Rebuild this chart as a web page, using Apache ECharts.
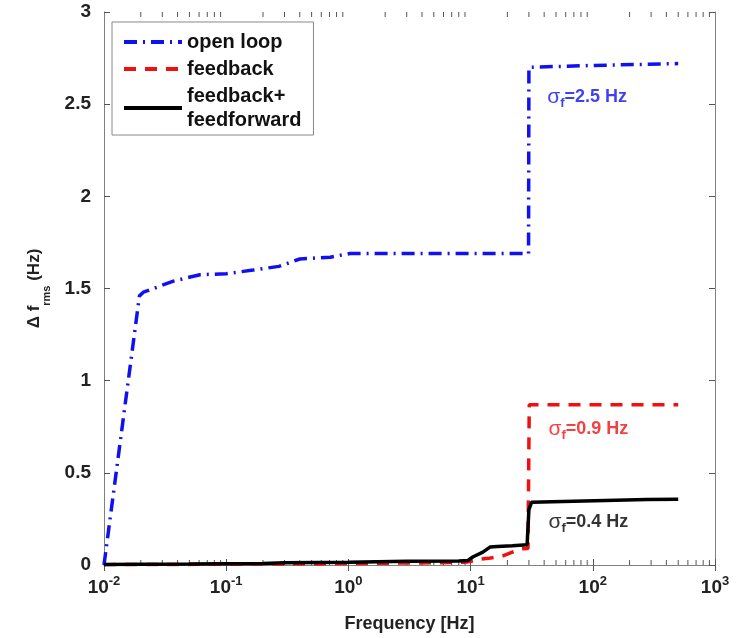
<!DOCTYPE html>
<html>
<head>
<meta charset="utf-8">
<script src="https://cdn.jsdelivr.net/npm/echarts@6/dist/echarts.min.js"></script>
<style>
  html, body { margin: 0; padding: 0; background: #fff; }
  #chart { width: 737px; height: 638px; }
</style>
</head>
<body>
<div id="chart"></div>
<script>
// ---- data ----
const openLoopFreq = [0.01, 0.0195, 0.021, 0.037, 0.061, 0.10, 0.166, 0.27, 0.33, 0.40, 0.71, 1.03, 2.0, 5, 10, 29.8, 30.0, 31, 100, 500];
const openLoopVal  = [0, 1.46, 1.48, 1.54, 1.575, 1.58, 1.60, 1.62, 1.64, 1.66, 1.67, 1.69, 1.69, 1.69, 1.69, 1.69, 2.70, 2.71, 2.71, 2.72];

const feedbackFreq = [0.01, 0.1, 1, 5, 9, 10.5, 11.9, 14, 18.4, 25.4, 29.5, 29.9, 30.2, 31, 100, 500];
const feedbackVal  = [0.002, 0.004, 0.008, 0.012, 0.015, 0.022, 0.032, 0.036, 0.05, 0.087, 0.09, 0.09, 0.87, 0.87, 0.87, 0.87];

const fbffFreq = [0.01, 0.05, 0.2, 0.3, 1, 3, 8, 9.5, 10.5, 12.6, 14.4, 16.5, 22, 29, 30, 31.5, 57, 278, 500];
const fbffVal  = [0.003, 0.005, 0.008, 0.012, 0.015, 0.02, 0.022, 0.025, 0.045, 0.07, 0.097, 0.10, 0.105, 0.11, 0.30, 0.34, 0.345, 0.355, 0.357];

const seriesNames = ['open loop', 'feedback', 'feedback+\nfeedforward'];
const xTickExponents = [-2, -1, 0, 1, 2, 3];
const minorMultipliers = [2, 3, 4, 5, 6, 7, 8, 9];

// annotations
const annotFreq = [42, 43, 43];
const annotVal  = [2.54, 0.736, 0.233];
const annotText = ['2.5 Hz', '0.9 Hz', '0.4 Hz'];

// ---- build ----
const zip = (a, b) => a.map((v, i) => [v, b[i]]);
const minorTicks = [];
xTickExponents.slice(0, -1).forEach(e => minorMultipliers.forEach(m => minorTicks.push([m * Math.pow(10, e)])));

const FONT = "'Liberation Sans', Arial, sans-serif";
const colors = ['#1010f0', '#f01010', '#000000'];
const axisLineColor = '#808080';
const TICKFONT = 19;

const chart = echarts.init(document.getElementById('chart'), null, { renderer: 'canvas' });

const xAxisBase = {
  type: 'log', logBase: 10, min: 0.01, max: 1000,
  splitLine: { show: false },
  axisLine: { show: true, lineStyle: { color: axisLineColor, width: 1 } },
  axisTick: { show: true, inside: true, length: 6, lineStyle: { color: '#555' } },
  minorTick: { show: false }
};
const yAxisBase = {
  type: 'value', min: 0, max: 3, interval: 0.5,
  splitLine: { show: false },
  axisLine: { show: true, lineStyle: { color: axisLineColor, width: 1 } },
  axisTick: { show: true, inside: true, length: 6, lineStyle: { color: '#555' } }
};

const legendText = { fontFamily: FONT, fontSize: 20, fontWeight: 'bold', color: '#111', lineHeight: 24 };
const option = {
  backgroundColor: '#fff',
  animation: false,
  textStyle: { fontFamily: FONT },
  grid: { left: 104, right: 22, top: 12, bottom: 72 },
  legend: {
    data: seriesNames,
    orient: 'vertical',
    left: 112, top: 22,
    padding: [8, 12, 3, 10],
    itemGap: 3,
    itemWidth: 58,
    itemHeight: 14,
    borderColor: '#888', borderWidth: 1,
    backgroundColor: '#fff',
    itemStyle: { opacity: 0 },
    lineStyle: { width: 4 },
    textStyle: legendText
  },
  xAxis: [
    Object.assign({}, xAxisBase, {
      position: 'bottom',
      name: 'Frequency [Hz]', nameLocation: 'middle', nameGap: 50,
      nameTextStyle: { fontFamily: FONT, fontSize: 18, fontWeight: 'bold', color: '#222' },
      axisLabel: {
        margin: 10,
        formatter: v => '{b|10}{s|' + Math.round(Math.log10(v)) + '}',
        rich: {
          b: { fontFamily: FONT, fontSize: TICKFONT, fontWeight: 'bold', color: '#222', lineHeight: 26 },
          s: { fontFamily: FONT, fontSize: 13, fontWeight: 'bold', color: '#222', verticalAlign: 'top', lineHeight: 26 }
        }
      }
    }),
    Object.assign({}, xAxisBase, { position: 'top', axisLabel: { show: false } })
  ],
  yAxis: [
    Object.assign({}, yAxisBase, {
      position: 'left',
      name: '{d|Δ f}{s|rms}{d| (Hz)}', nameLocation: 'middle', nameGap: 52, nameRotate: 90,
      nameTextStyle: {
        rich: {
          d: { fontFamily: FONT, fontSize: 17, fontWeight: 'bold', color: '#222', lineHeight: 26, verticalAlign: 'top' },
          s: { fontFamily: FONT, fontSize: 11, fontWeight: 'bold', color: '#222', lineHeight: 26, verticalAlign: 'bottom' }
        }
      },
      axisLabel: { margin: 13, fontFamily: FONT, fontSize: TICKFONT, fontWeight: 'bold', color: '#222' }
    }),
    Object.assign({}, yAxisBase, { position: 'right', axisLabel: { show: false } })
  ],
  series: [
    {
      name: seriesNames[0], type: 'line', data: zip(openLoopFreq, openLoopVal),
      symbol: 'none',
      lineStyle: { color: colors[0], width: 3.5, type: [13, 6, 2, 6] },
      itemStyle: { color: colors[0] }, z: 3
    },
    {
      name: seriesNames[1], type: 'line', data: zip(feedbackFreq, feedbackVal),
      symbol: 'none',
      lineStyle: { color: colors[1], width: 3.5, type: [12, 9] },
      itemStyle: { color: colors[1] }, z: 3
    },
    {
      name: seriesNames[2], type: 'line', data: zip(fbffFreq, fbffVal),
      symbol: 'none',
      lineStyle: { color: colors[2], width: 3.5, type: 'solid' },
      itemStyle: { color: colors[2] }, z: 4
    },
    {
      name: 'annotations', type: 'scatter', symbolSize: 1,
      itemStyle: { color: 'rgba(0,0,0,0)' },
      data: annotFreq.map((f, i) => ({
        value: [f, annotVal[i]],
        label: {
          show: true, position: 'right', distance: 0,
          formatter: '{g|σ}{sub|f}{t|=' + annotText[i] + '}',
          rich: {
            g: { fontFamily: FONT, fontSize: 21, color: colors[i], lineHeight: 26, verticalAlign: 'middle' },
            sub: { fontFamily: FONT, fontSize: 13, fontWeight: 'bold', color: colors[i], lineHeight: 26, verticalAlign: 'bottom' },
            t: { fontFamily: FONT, fontSize: 18, fontWeight: 'bold', color: colors[i], lineHeight: 26, verticalAlign: 'middle' }
          }
        }
      })),
      silent: true, z: 5
    },
    {
      name: 'minorTicks', type: 'custom', data: minorTicks, silent: true, z: 2,
      renderItem: function (params, api) {
        const f = api.value(0);
        const pb = api.coord([f, 0]);
        const pt = api.coord([f, 3]);
        const st = { stroke: '#555', lineWidth: 1 };
        return {
          type: 'group',
          children: [
            { type: 'line', shape: { x1: pb[0], y1: pb[1], x2: pb[0], y2: pb[1] - 5 }, style: st },
            { type: 'line', shape: { x1: pt[0], y1: pt[1], x2: pt[0], y2: pt[1] + 5 }, style: st }
          ]
        };
      }
    }
  ]
};
chart.setOption(option);
</script>
</body>
</html>
